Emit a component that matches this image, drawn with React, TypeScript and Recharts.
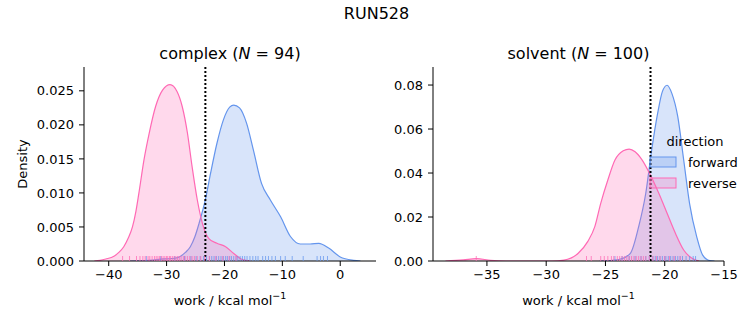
import { ComposedChart, Area, Scatter, XAxis, YAxis, ReferenceLine } from 'recharts'

const FONT = '"DejaVu Sans", sans-serif'
const FORWARD = '#6495ED'
const REVERSE = '#FF69B4'

// KDE curves: [work, density]
const complexForward = [
  [-36.5, 0], [-33, 0.0001], [-30.5, 0.0003], [-28.6, 0.0004], [-27.6, 0.0007],
  [-26.7, 0.0013], [-25.9, 0.0021], [-25.1, 0.0036], [-24.4, 0.0055], [-23.3, 0.009],
  [-22.4, 0.0129], [-21.3, 0.0173], [-20.2, 0.0207], [-19.1, 0.0226], [-18.4, 0.0229],
  [-17.4, 0.0225], [-16.2, 0.0203], [-15.0, 0.0163], [-13.6, 0.0114], [-12.1, 0.009],
  [-10.3, 0.0065], [-8.6, 0.0036], [-6.9, 0.0025], [-5.2, 0.0025], [-3.7, 0.0026],
  [-2.0, 0.0019], [0, 0.0006], [2.3, 0.0001], [3.5, 0],
]
const complexReverse = [
  [-42.5, 0], [-41.5, 0.0001], [-40.5, 0.0003], [-39.1, 0.0007], [-38.2, 0.0013],
  [-37.4, 0.0021], [-36.6, 0.0034], [-35.9, 0.005], [-35.3, 0.0073], [-34.8, 0.0099],
  [-33.9, 0.0149], [-33.0, 0.0188], [-31.9, 0.0227], [-30.7, 0.0251], [-29.4, 0.0259],
  [-28.2, 0.0249], [-27.3, 0.0227], [-26.4, 0.0188], [-25.6, 0.0139], [-24.7, 0.009],
  [-23.8, 0.0055], [-22.7, 0.0033], [-21.3, 0.0026], [-19.8, 0.0021], [-18.4, 0.0011],
  [-16.9, 0.0002], [-15.5, 0],
]
const solventForward = [
  [-25.5, 0], [-25.0, 0.0001], [-23.8, 0.0008], [-22.9, 0.0035], [-22.2, 0.0156],
  [-21.6, 0.0308], [-21.1, 0.0505], [-20.6, 0.0671], [-20.2, 0.077], [-19.8, 0.0799],
  [-19.4, 0.0762], [-18.9, 0.0656], [-18.4, 0.0459], [-17.9, 0.026], [-17.3, 0.011],
  [-16.8, 0.0027], [-16.2, 0.0002], [-15.8, 0],
]
const solventReverse = [
  [-38.5, 0], [-37.0, 0.0005], [-35.9, 0.0011], [-34.7, 0.0003], [-33.4, 0],
  [-29.5, 0], [-28.5, 0.0004], [-27.3, 0.0035], [-26.5, 0.0088], [-25.9, 0.0156],
  [-25.4, 0.0262], [-24.8, 0.0368], [-24.2, 0.0459], [-23.5, 0.0501], [-23.0, 0.0509],
  [-22.5, 0.0497], [-21.9, 0.0459], [-21.2, 0.039], [-20.5, 0.0308], [-19.8, 0.0217],
  [-19.1, 0.0126], [-18.4, 0.005], [-17.7, 0.0012], [-17.1, 0],
]

// individual work values (rug marks)
const complexForwardRug = [
  -33.5, -31.0, -28.6, -26.9, -25.8, -24.9, -24.2, -23.6, -23.1, -22.6, -22.2, -21.8,
  -21.4, -21.0, -20.6, -20.2, -19.8, -19.5, -19.1, -18.8, -18.4, -18.0, -17.7, -17.3,
  -16.9, -16.5, -16.1, -15.6, -15.1, -14.6, -14.2, -13.4, -12.9, -12.4, -11.8, -11.2,
  -10.3, -9.5, -8.3, -6.4, -4.0, -3.4, -2.9, -2.2,
]
const complexReverseRug = [
  -37.6, -36.4, -35.2, -34.6, -34.1, -33.7, -33.2, -32.9, -32.5, -32.1, -31.8, -31.5,
  -31.2, -30.9, -30.6, -30.3, -30.0, -29.8, -29.5, -29.3, -29.0, -28.7, -28.4, -28.1,
  -27.8, -27.5, -27.1, -26.8, -26.4, -26.0, -25.6, -25.2, -24.7, -24.1, -23.4, -22.6,
  -21.5, -20.3, -19.2, -18.0,
]
const solventForwardRug = [
  -24.2, -23.6, -23.0, -22.5, -22.0, -21.6, -21.3, -21.0, -20.8, -20.6, -20.4, -20.2,
  -20.0, -19.9, -19.7, -19.5, -19.3, -19.1, -18.9, -18.7, -18.5, -18.2, -17.9, -17.6, -17.4,
]
const solventReverseRug = [
  -35.9, -26.6, -26.2, -25.4, -25.1, -24.8, -24.5, -24.3, -24.0, -23.8, -23.6, -23.4,
  -23.2, -23.0, -22.8, -22.6, -22.4, -22.2, -22.0, -21.8, -21.6, -21.3, -21.0, -20.7,
  -20.4, -20.0, -19.6, -19.2, -18.7,
]

const complexTicks = [-40, -30, -20, -10, 0]
const complexDensityTicks = [0, 0.005, 0.01, 0.015, 0.02, 0.025]
const solventTicks = [-35, -30, -25, -20, -15]
const solventDensityTicks = [0, 0.02, 0.04, 0.06, 0.08]
const complexMarker = -23.3
const solventMarker = -21.2

type Row = { x: number; forward?: number; reverse?: number }

function mergeCurves(fwd: number[][], rev: number[][]): Row[] {
  const rows = new Map<number, Row>()
  fwd.forEach(([x, d]) => rows.set(x, { ...(rows.get(x) ?? { x }), forward: d }))
  rev.forEach(([x, d]) => rows.set(x, { ...(rows.get(x) ?? { x }), reverse: d }))
  return [...rows.values()].sort((a, b) => a.x - b.x)
}

const rugTick = (color: string) => (props: any) => (
  <line
    x1={props.cx}
    x2={props.cx}
    y1={props.cy}
    y2={props.cy - 5}
    stroke={color}
    strokeOpacity={0.75}
    strokeWidth={1}
  />
)

const minus = (v: number) => String(v).replace('-', '\u2212')
const tickStyle = { fill: '#000', fontSize: 13, fontFamily: FONT }

interface PanelProps {
  left: number
  width: number
  rightMargin: number
  yWidth: number
  fwd: number[][]
  rev: number[][]
  fwdRug: number[]
  revRug: number[]
  xDomain: [number, number]
  xTicks: number[]
  yMax: number
  yTicks: number[]
  yDigits: number
  marker: number
}

function Panel(p: PanelProps) {
  const data = mergeCurves(p.fwd, p.rev)
  return (
    <div style={{ position: 'absolute', left: p.left, top: 0 }}>
      <ComposedChart
        width={p.width}
        height={325}
        data={data}
        margin={{ top: 67, right: p.rightMargin, bottom: 0, left: 0 }}
      >
        <XAxis
          dataKey="x"
          type="number"
          domain={p.xDomain}
          ticks={p.xTicks}
          allowDataOverflow
          height={64}
          tick={tickStyle}
          tickFormatter={minus}
          tickSize={5}
          tickMargin={4}
          axisLine={{ stroke: '#000' }}
          tickLine={{ stroke: '#000' }}
        />
        <YAxis
          type="number"
          domain={[0, p.yMax]}
          ticks={p.yTicks}
          allowDataOverflow
          width={p.yWidth}
          tick={tickStyle}
          tickFormatter={(v: number) => v.toFixed(p.yDigits)}
          tickSize={5}
          tickMargin={5}
          axisLine={{ stroke: '#000' }}
          tickLine={{ stroke: '#000' }}
        />
        <Area
          dataKey="forward"
          type="monotone"
          connectNulls
          stroke={FORWARD}
          strokeWidth={1.2}
          fill={FORWARD}
          fillOpacity={0.25}
          dot={false}
          activeDot={false}
          isAnimationActive={false}
        />
        <Area
          dataKey="reverse"
          type="monotone"
          connectNulls
          stroke={REVERSE}
          strokeWidth={1.2}
          fill={REVERSE}
          fillOpacity={0.25}
          dot={false}
          activeDot={false}
          isAnimationActive={false}
        />
        <Scatter
          data={p.fwdRug.map((x) => ({ x, y: 0 }))}
          dataKey="y"
          shape={rugTick(FORWARD)}
          isAnimationActive={false}
        />
        <Scatter
          data={p.revRug.map((x) => ({ x, y: 0 }))}
          dataKey="y"
          shape={rugTick(REVERSE)}
          isAnimationActive={false}
        />
        <ReferenceLine x={p.marker} stroke="#000" strokeWidth={2} strokeDasharray="2 2" />
      </ComposedChart>
    </div>
  )
}

function XLabel({ cx }: { cx: number }) {
  return (
    <text x={cx} y={305} textAnchor="middle" fontSize={13}>
      work / kcal mol
      <tspan fontSize={9.5} dy={-6}>{'\u22121'}</tspan>
    </text>
  )
}

export default function App() {
  return (
    <div style={{ position: 'absolute', left: 0, top: 0, width: 753, height: 325, background: '#fff' }}>
      <Panel
        left={0}
        width={380}
        rightMargin={4}
        yWidth={84}
        fwd={complexForward}
        rev={complexReverse}
        fwdRug={complexForwardRug}
        revRug={complexReverseRug}
        xDomain={[-44.27, 6.18]}
        xTicks={complexTicks}
        yMax={0.0285}
        yTicks={complexDensityTicks}
        yDigits={3}
        marker={complexMarker}
      />
      <Panel
        left={380}
        width={373}
        rightMargin={29}
        yWidth={53}
        fwd={solventForward}
        rev={solventReverse}
        fwdRug={solventForwardRug}
        revRug={solventReverseRug}
        xDomain={[-39.55, -15]}
        xTicks={solventTicks}
        yMax={0.0882}
        yTicks={solventDensityTicks}
        yDigits={2}
        marker={solventMarker}
      />
      <svg
        width={753}
        height={325}
        style={{ position: 'absolute', left: 0, top: 0, pointerEvents: 'none' }}
        fontFamily={FONT}
        fill="#000"
      >
        <text x={376.5} y={19} textAnchor="middle" fontSize={16}>RUN528</text>
        <text x={230} y={59} textAnchor="middle" fontSize={16}>
          complex (<tspan fontStyle="italic">N</tspan> = 94)
        </text>
        <text x={578.5} y={59} textAnchor="middle" fontSize={16}>
          solvent (<tspan fontStyle="italic">N</tspan> = 100)
        </text>
        <text
          x={22}
          y={164}
          textAnchor="middle"
          dominantBaseline="central"
          fontSize={13}
          transform="rotate(-90 22 164)"
        >
          Density
        </text>
        <XLabel cx={230} />
        <XLabel cx={578.5} />
        {/* legend */}
        <text x={695} y={146} textAnchor="middle" fontSize={13}>direction</text>
        <rect x={650} y={157} width={26} height={10} fill={FORWARD} fillOpacity={0.25} stroke={FORWARD} />
        <text x={688} y={167} fontSize={13}>forward</text>
        <rect x={650} y={178} width={26} height={10} fill={REVERSE} fillOpacity={0.25} stroke={REVERSE} />
        <text x={688} y={188} fontSize={13}>reverse</text>
      </svg>
    </div>
  )
}
